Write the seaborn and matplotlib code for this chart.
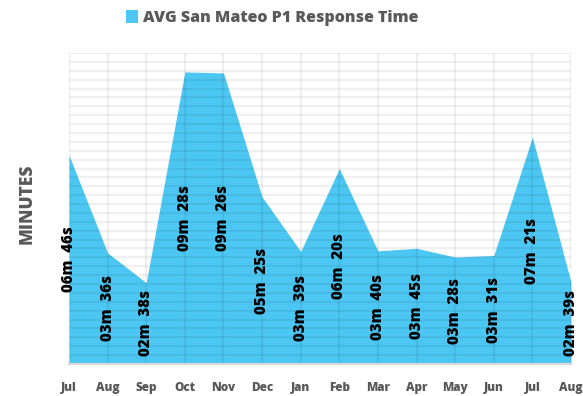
import numpy as np
import pandas as pd
import matplotlib
matplotlib.use("Agg")
import matplotlib.pyplot as plt
from matplotlib.patches import Patch
import seaborn as sns

# Monthly average P1 response time
months = ["Jul", "Aug", "Sep", "Oct", "Nov", "Dec", "Jan", "Feb",
          "Mar", "Apr", "May", "Jun", "Jul", "Aug"]
minutes = [6, 3, 2, 9, 9, 5, 3, 6, 3, 3, 3, 3, 7, 2]
seconds = [46, 36, 38, 28, 26, 25, 39, 20, 40, 45, 28, 31, 21, 39]

series_name = "AVG San Mateo P1 Response Time"
axis_title = "MINUTES"

df = pd.DataFrame({"month": months, "min": minutes, "sec": seconds})
df["pos"] = np.arange(len(df))
df["total"] = df["min"] * 60 + df["sec"]
df["label"] = [f"{m:02d}m  {s:02d}s" for m, s in zip(df["min"], df["sec"])]

sns.set_theme(style="white")
plt.rcParams["font.family"] = ["Open Sans", "DejaVu Sans"]

area_color = "#4CC7F3"
text_gray = "#595959"
heavy = 800

fig = plt.figure(figsize=(5.83, 3.96), dpi=100)
ax = fig.add_axes([69 / 583, 32 / 396, (571 - 69) / 583, (364 - 53) / 396])

# y axis in seconds; gridline step of 0.0002 day (17.28 s), top at 0.007 day
step = 0.0002 * 86400
ymax = 35 * step

sns.lineplot(data=df, x="pos", y="total", ax=ax, color=area_color,
             linewidth=0, zorder=2)
ax.fill_between(df["pos"], df["total"], 0, color=area_color,
                linewidth=0, zorder=2)

ax.set_xlim(0, len(df) - 1)
ax.set_ylim(0, ymax)

# grid drawn over the area
grid_kw = dict(color=(0, 0, 0, 0.06), linewidth=1.6, zorder=3)
for y in np.arange(step, ymax + 1, step):
    ax.axhline(y, **grid_kw)
for x in df["pos"]:
    ax.axvline(x, **grid_kw)

# value labels, centred in the area below each point
for x, v, lab in zip(df["pos"], df["total"], df["label"]):
    ax.text(x, v / 2, lab, rotation=90, ha="center", va="center",
            fontsize=10.8, fontweight=heavy, color="black", zorder=5)

ax.set_xticks(df["pos"])
ax.set_xticklabels(df["month"], fontsize=8.5, fontweight=heavy, color=text_gray)
ax.set_yticks([])
ax.tick_params(axis="x", length=0, pad=13)
ax.set_xlabel("")
ax.set_ylabel("")

for side in ["top", "right", "left"]:
    ax.spines[side].set_visible(False)
ax.spines["bottom"].set_color("#d9d9d9")
ax.spines["bottom"].set_linewidth(1.6)
ax.spines["bottom"].set_zorder(4)

fig.text(27 / 583, 1 - 204 / 396, axis_title, rotation=90, ha="center",
         va="center", fontsize=12.5, fontweight=heavy, color=text_gray)

fig.legend(handles=[Patch(facecolor=area_color, edgecolor="none")],
           labels=[series_name], loc="center", bbox_to_anchor=(272 / 583, 1 - 18 / 396),
           frameon=False, handlelength=0.8, handleheight=0.8, handletextpad=0.3,
           prop={"size": 11.5, "weight": heavy}, labelcolor=text_gray)

fig.savefig("out.png", dpi=100)
